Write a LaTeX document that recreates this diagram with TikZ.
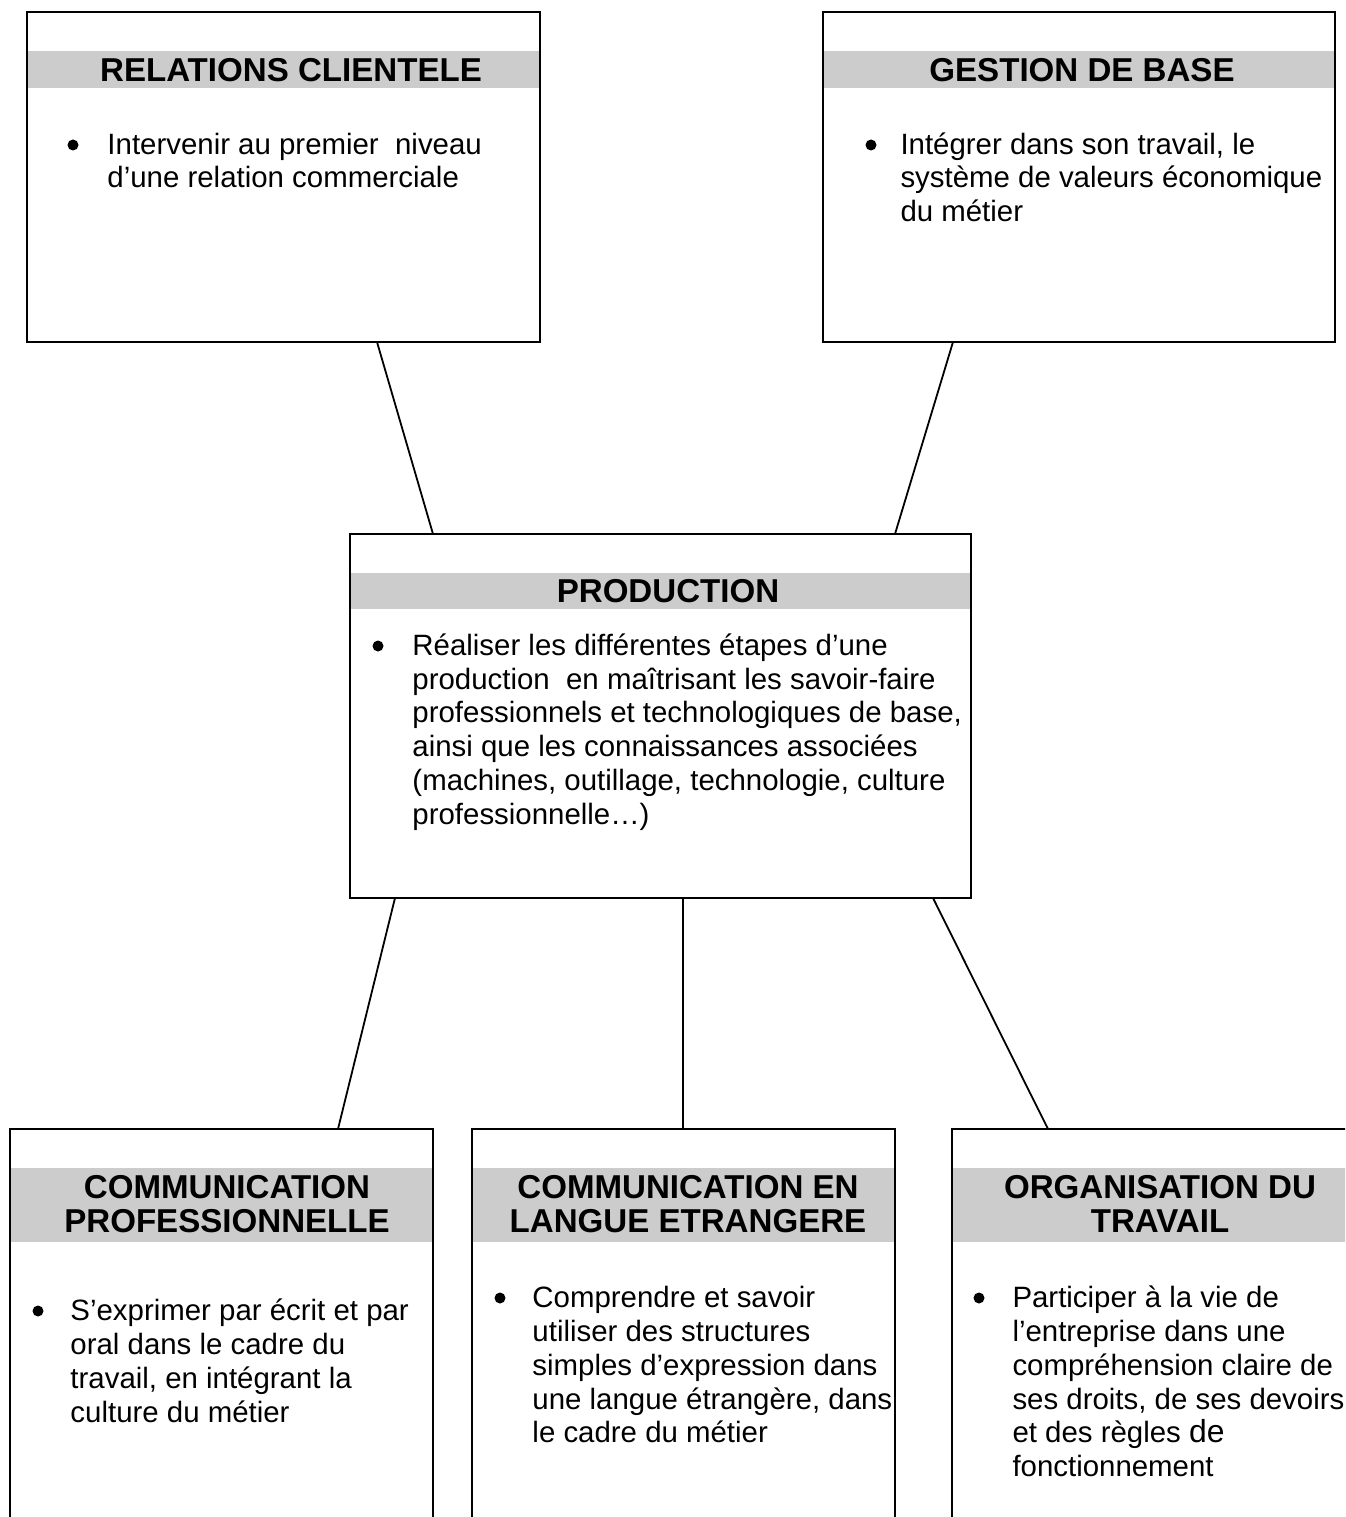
\documentclass[tikz,border=0pt]{standalone}
\usepackage{fontspec}
\setmainfont{Liberation Sans}
\newlength\px
\setlength\px{0.408pt}
\definecolor{barfill}{HTML}{CCCCCC}
\tikzset{
  box/.style={draw=black, line width=2.5\px, rectangle, inner sep=0pt, outer sep=0pt, anchor=north west},
  bar/.style={fill=barfill, draw=none},
  hdr/.style={inner sep=0pt, anchor=base, font=\fontsize{13.5}{14.1}\selectfont\bfseries},
  body/.style={inner sep=0pt, anchor=base west, font=\fontsize{12}{13.87}\selectfont},
  link/.style={draw=black, line width=1.8\px},
  dot/.style={fill=black}
}
\begin{document}
\begin{tikzpicture}[x=0.408pt, y=-0.408pt]
\path[use as bounding box] (0,0) rectangle (1345,1517);
\clip (0,0) rectangle (1345,1517);

% grey title bars
\fill[bar] (27,51) rectangle (540,88);
\fill[bar] (823,51) rectangle (1335,88);
\fill[bar] (350,573) rectangle (971,609);
\fill[bar] (10,1168) rectangle (433,1242);
\fill[bar] (472,1168) rectangle (895,1242);
\fill[bar] (952,1168) rectangle (1360,1242);

% boxes
\node[box, minimum width=513\px, minimum height=330\px] (rc) at (27,12) {};
\node[box, minimum width=512\px, minimum height=330\px] (gb) at (823,12) {};
\node[box, minimum width=621\px, minimum height=364\px] (prod) at (350,534) {};
\node[box, minimum width=423\px, minimum height=420\px] (cp) at (10,1129) {};
\node[box, minimum width=423\px, minimum height=420\px] (cle) at (472,1129) {};
\node[box, minimum width=420\px, minimum height=420\px] (ot) at (952,1129) {};

% headers
\node[hdr] (rch) at (291,82) {RELATIONS CLIENTELE};
\node[hdr] (gbh) at (1082,82) {GESTION DE BASE};
\node[hdr] (prodh) at (668,602) {PRODUCTION};
\node[hdr] (cph) at (227,1198) {\begin{tabular}[t]{@{}c@{}}COMMUNICATION\\PROFESSIONNELLE\end{tabular}};
\node[hdr] (cleh) at (688,1198) {\begin{tabular}[t]{@{}c@{}}COMMUNICATION EN\\LANGUE ETRANGERE\end{tabular}};
\node[hdr] (oth) at (1160,1198) {\begin{tabular}[t]{@{}c@{}}ORGANISATION DU\\TRAVAIL\end{tabular}};

% bullets
\fill[dot] (73,145) circle (5.5);
\fill[dot] (871,145) circle (5.5);
\fill[dot] (378,646) circle (5.5);
\fill[dot] (38,1311) circle (5.5);
\fill[dot] (500,1298) circle (5.5);
\fill[dot] (979,1298) circle (5.5);

% body texts
\node[body] (rct) at (107,154) {\parbox[t]{420\px}{Intervenir au premier\ \ niveau\\d’une relation commerciale}};
\node[body] (gbt) at (900,154) {\parbox[t]{430\px}{Intégrer dans son travail, le\\système de valeurs économique\\du métier}};
\node[body] (prodt) at (412,655) {\parbox[t]{550\px}{Réaliser les différentes étapes d’une\\production\ \ en maîtrisant les savoir-faire\\professionnels et technologiques de base,\\ainsi que les connaissances associées\\(machines, outillage, technologie, culture\\professionnelle…)}};
\node[body] (cpt) at (70,1320) {\parbox[t]{360\px}{S’exprimer par écrit et par\\oral dans le cadre du\\travail, en intégrant la\\culture du métier}};
\node[body] (clet) at (532,1307) {\parbox[t]{360\px}{Comprendre et savoir\\utiliser des structures\\simples d’expression dans\\une langue étrangère, dans\\le cadre du métier}};
\node[body] (ott) at (1012,1307) {\parbox[t]{340\px}{Participer à la vie de\\l’entreprise dans une\\compréhension claire de\\ses droits, de ses devoirs\\et des règles {\fontsize{13}{13.87}\selectfont de}\\fonctionnement}};

% connectors
\draw[link] ([xshift=350\px]rc.south west) -- ([xshift=83\px]prod.north west);
\draw[link] ([xshift=130\px]gb.south west) -- ([xshift=545\px]prod.north west);
\draw[link] ([xshift=45\px]prod.south west) -- ([xshift=328\px]cp.north west);
\draw[link] ([xshift=333\px]prod.south west) -- ([xshift=211\px]cle.north west);
\draw[link] ([xshift=583\px]prod.south west) -- ([xshift=96\px]ot.north west);
\end{tikzpicture}
\end{document}
